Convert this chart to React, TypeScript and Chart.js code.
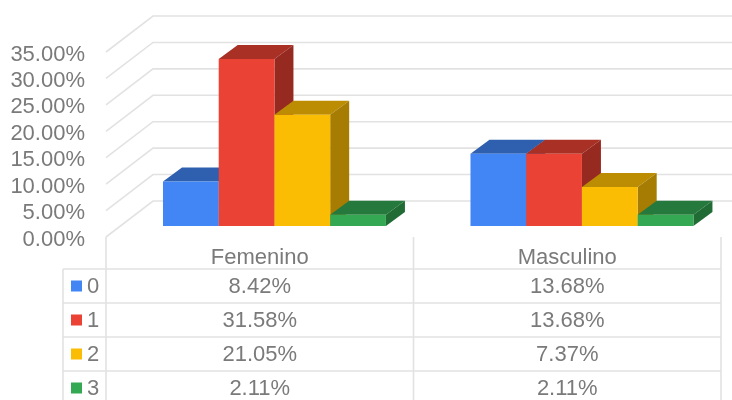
import React, { useEffect, useRef } from "react";
import { Chart, registerables } from "chart.js";

Chart.register(...registerables);

const categories = ["Femenino", "Masculino"];
const seriesNames = ["0", "1", "2", "3"];
const series0 = [8.42, 13.68];
const series1 = [31.58, 13.68];
const series2 = [21.05, 7.37];
const series3 = [2.11, 2.11];
const seriesValues = [series0, series1, series2, series3];
const frontColors = ["#4285F4", "#EA4335", "#FBBC04", "#34A853"];
const topColors = ["#2F60B0", "#A83025", "#BC8D03", "#26793C"];
const sideColors = ["#2A569E", "#962A21", "#A67C02", "#216C35"];

const FONT_FAMILY = '"Liberation Sans", Arial, sans-serif';
const FONT = '22px ' + FONT_FAMILY;
const TEXT = "#7A7A7A";
const GRID = "#E2E2E2";
const DX = 19, DY = -14;        // bar depth
const BAR_SHIFT_X = 14.7, BAR_SHIFT_Y = -11; // bars stand inside the floor
const WALL_X = 47, WALL_Y = -36;           // wall offset

const rowLines = [269, 303, 337, 371];

const threeD = {
  id: "threeD",
  beforeDatasetsDraw(chart: any) {
    const { ctx, scales } = chart;
    const left = chart.chartArea.left;
    ctx.save();
    ctx.strokeStyle = GRID;
    ctx.lineWidth = 1.6;
    scales.y.ticks.forEach((t: any) => {
      const y = scales.y.getPixelForValue(t.value);
      ctx.beginPath();
      ctx.moveTo(left, y);
      ctx.lineTo(left + WALL_X, y + WALL_Y);
      ctx.lineTo(chart.width, y + WALL_Y);
      ctx.stroke();
    });
    ctx.restore();
  },
  // The bars are painted left to right below, so that each one covers the side of the last.
  beforeDatasetDraw() {
    return false;
  },
  afterDatasetsDraw(chart: any) {
    const { ctx } = chart;
    ctx.save();
    ctx.translate(BAR_SHIFT_X, BAR_SHIFT_Y);
    seriesNames.forEach((_, index) => {
      const meta = chart.getDatasetMeta(index);
      meta.data.forEach((bar: any) => {
        const p = bar.getProps(["x", "y", "base", "width"], true);
        const l = p.x - p.width / 2, r = p.x + p.width / 2;
        ctx.fillStyle = topColors[index];
        ctx.beginPath();
        ctx.moveTo(l, p.y);
        ctx.lineTo(l + DX, p.y + DY);
        ctx.lineTo(r + DX, p.y + DY);
        ctx.lineTo(r, p.y);
        ctx.closePath();
        ctx.fill();
        ctx.fillStyle = sideColors[index];
        ctx.beginPath();
        ctx.moveTo(r, p.y);
        ctx.lineTo(r + DX, p.y + DY);
        ctx.lineTo(r + DX, p.base + DY);
        ctx.lineTo(r, p.base);
        ctx.closePath();
        ctx.fill();
      });
      meta.controller.draw();
    });
    ctx.restore();
  },
  afterDraw(chart: any) {
    const { ctx, chartArea, scales } = chart;
    const left = chartArea.left, right = chartArea.right, bottom = chartArea.bottom;
    const mid = (scales.x.getPixelForValue(0) + scales.x.getPixelForValue(1)) / 2;
    const tableLeft = 63;
    ctx.save();
    ctx.strokeStyle = GRID;
    ctx.lineWidth = 1.6;
    [left, mid, right].forEach((x: number) => {
      ctx.beginPath();
      ctx.moveTo(x, bottom);
      ctx.lineTo(x, chart.height);
      ctx.stroke();
    });
    ctx.beginPath();
    ctx.moveTo(tableLeft, rowLines[0]);
    ctx.lineTo(tableLeft, chart.height);
    ctx.stroke();
    rowLines.forEach((y) => {
      ctx.beginPath();
      ctx.moveTo(tableLeft, y);
      ctx.lineTo(right, y);
      ctx.stroke();
    });
    ctx.font = FONT;
    ctx.textBaseline = "middle";
    seriesNames.forEach((name, i) => {
      const y = rowLines[i] + 17;
      ctx.fillStyle = frontColors[i];
      ctx.fillRect(71, y - 5.5, 11, 11);
      ctx.fillStyle = TEXT;
      ctx.textAlign = "left";
      ctx.fillText(name, 87, y + 1);
      ctx.textAlign = "center";
      seriesValues[i].forEach((v, c) => {
        ctx.fillText(v.toFixed(2) + "%", scales.x.getPixelForValue(c), y + 1);
      });
    });
    ctx.restore();
  },
};

export default function App() {
  const ref = useRef<HTMLCanvasElement>(null);
  useEffect(() => {
    document.body.style.margin = "0";
    const chart = new Chart(ref.current!, {
      type: "bar",
      data: {
        labels: categories,
        datasets: seriesNames.map((name, i) => ({
          label: name,
          data: seriesValues[i],
          backgroundColor: frontColors[i],
          categoryPercentage: 0.725,
          barPercentage: 1,
        })),
      },
      options: {
        animation: false,
        responsive: false,
        layout: { padding: { left: 0, right: 11, top: 52, bottom: 0 } },
        plugins: { legend: { display: false }, title: { display: false }, tooltip: { enabled: false } },
        scales: {
          x: {
            grid: { display: false, drawTicks: false },
            border: { display: false },
            ticks: { color: TEXT, font: { family: FONT_FAMILY, size: 22 }, padding: 8, maxRotation: 0 },
            afterFit: (s: any) => { s.height = 163; },
          },
          y: {
            min: 0,
            max: 35,
            grid: { display: false, drawTicks: false },
            border: { display: false },
            ticks: {
              stepSize: 5,
              autoSkip: false,
              color: TEXT,
              padding: 21,
              labelOffset: 2.5,
              font: { family: FONT_FAMILY, size: 22 },
              callback: (v: any) => Number(v).toFixed(2) + "%",
            },
            afterFit: (s: any) => { s.width = 106; },
          },
        },
      },
      plugins: [threeD],
    });
    return () => chart.destroy();
  }, []);
  return (
    <canvas
      ref={ref}
      width={732}
      height={400}
      style={{ display: "block", width: 732, height: 400, filter: "blur(0.5px)" }}
    />
  );
}
